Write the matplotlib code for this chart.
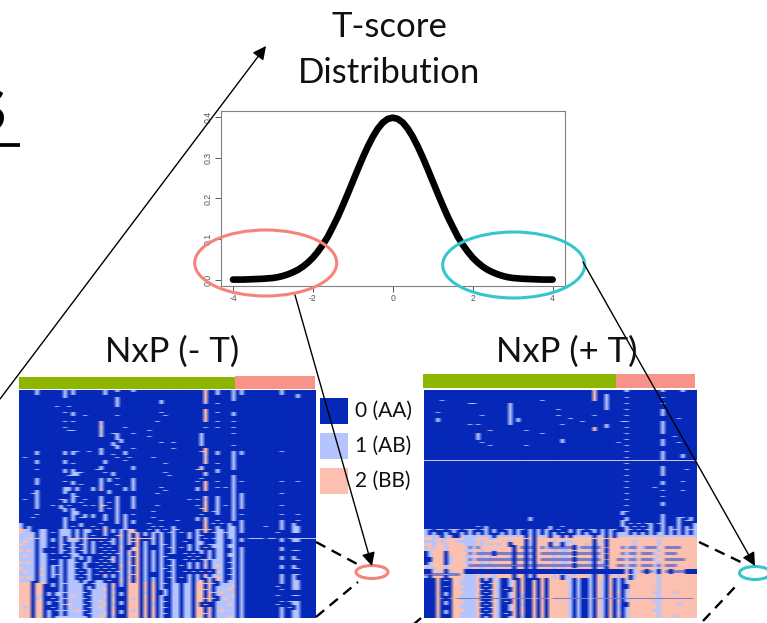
import matplotlib
matplotlib.use("Agg")
import matplotlib.pyplot as plt
from matplotlib.colors import ListedColormap
from matplotlib.patches import Ellipse, Rectangle

plt.rcParams["font.family"] = ["Lato", "DejaVu Sans"]

W, H = 767, 623

# density curve
t_values = [-4, -3.75, -3.5, -3.25, -3, -2.875, -2.75, -2.625, -2.5, -2.375, -2.25, -2.125, -2, -1.875, -1.75, -1.625,
            -1.5, -1.375, -1.25, -1.125, -1, -0.875, -0.75, -0.625, -0.5, -0.375, -0.25, -0.125, 0,
            0.125, 0.25, 0.375, 0.5, 0.625, 0.75, 0.875, 1, 1.125, 1.25, 1.375, 1.5, 1.625,
            1.75, 1.875, 2, 2.125, 2.25, 2.375, 2.5, 2.625, 2.75, 2.875, 3, 3.25, 3.5, 3.75, 4]
density = [0.000, 0.000, 0.001, 0.002, 0.004, 0.006, 0.009, 0.013, 0.018, 0.024, 0.032, 0.042, 0.054, 0.069, 0.086, 0.106,
           0.130, 0.155, 0.183, 0.212, 0.242, 0.272, 0.301, 0.328, 0.352, 0.372, 0.387, 0.396, 0.399,
           0.396, 0.387, 0.372, 0.352, 0.328, 0.301, 0.272, 0.242, 0.212, 0.183, 0.155, 0.130, 0.106,
           0.086, 0.069, 0.054, 0.042, 0.032, 0.024, 0.018, 0.013, 0.009, 0.006, 0.004, 0.002, 0.001, 0.000, 0.000]
x_ticks = [-4, -2, 0, 2, 4]
y_ticks = [0.0, 0.1, 0.2, 0.3, 0.4]

legend_labels = ["0 (AA)", "1 (AB)", "2 (BB)"]

# heatmap cells: . = 0 (AA), 1 = AB, 2 = BB, m = blurred mix of AA and BB
left_rows = [
    "....1..... .1.1...... .1..1...1. .......... ......2..1 ...1.1.... .....1",
    "....1..... .1.1...... .1........ .......... ......2..1 ...1.1.... .....1...1",
    ".......... .1........ ....1..... .......... ......2... ...1...... .........1",
    ".......... .......... ....1..... .....1.... ......2... ...1",
    ".......... .......... ....1..... .....1.... ......1..1",
    ".........1 ..1....... ....1.....",
    ".......... .......... .......... .......... ......2...",
    ".......... .1.1...... .......... .....1.... ......2..1 ...1",
    ".......... ...1..1... ....1..... ......1... ......2... ...1",
    ".......... .......... .......... .......... ......2...",
    ".......... .1.1...... 2......... ....1..... ......2..1 ...1",
    ".......... .......... 1......... ..........",
    ".......... .1........ 2.....1... .......... ......1..1 ...1",
    ".......... ..11...... 1......... ..1.......",
    ".......... .......... 1..11...1. .......... .....1.... ...1",
    ".......... .......... 2...1..... ..1....... .....1",
    ".......... .......... ....11.... .......... .....1",
    ".......... .......... ...1.1.... .....1..1. .....1",
    ".......... .......... ...11..... .......... .....1.... ...1",
    ".......... .......... 1...1...1. ........1. ......2",
    "....1..... .1.11..1.. 1.....1... .......... .....22..1 ...1.1.... .....1",
    "....1..... .1.1...... 1..1..1... .......... ......2..1 ...1.1",
    ".1........ .......... ....1..1.. ...1...... ......1... ...1",
    "....1..... .1........ .1....1... .......... ......2... ...1",
    "....1..... .1.1...... .1........ ......1... ......2..1 ...1",
    ".......... .......... 1.......1. .......... .....1.... ...1",
    "....1..... .1.1.....1 1.......1. .......... ....22...1 ...1",
    ".......... .1.111.... .1.1...... ......1... ......2..1",
    ".......... ..111..... ...1...... .......1.. ......1... ...1",
    "....1..... .......... 1.1.1...1. .......... .....1.... ...1",
    "....1..... .1.1...... 1.1.....1. .......... ....1.2..1 ...1.1.... .....1...1",
    "....1..... ...1.1.... 1...1...1. .......... ......2... ...1",
    ".......... .11.1...1. 1.....1.1. .....1.... ....1.2..1 .1.1",
    "....1..... .11.1...1. 2.1...1.1. ......1... ....1.2... ...1",
    "...11..... .1.1...... ..1....... ....1..... .......... ...1.1.... .....1",
    "....1..... ...11..... 1...1...1. .......... ......2..1 ...1.1",
    ".1..1..... 11.1..1... 1...1...1. .......... ..1.1.1..1 ...1.1",
    "....1..... .1.1.1.... 1.1.1...1. .......... ......2..1 ...1.1",
    "....1...1. 1.1...1.1. 22..1...1. ....1..... ....1.2..1 .1.1.1.... .....1....",
    "....1..... 11.1...... 1.1.1...1. .......... .....22..1 ...1.1",
    ".......... .1.11..... 1...1..... ...1...... ......2.11 ...1",
    "....1..... ...11.1.1. .1..1.1.1. .......... .....1...1 ...1.1.... .....1...1",
    "...1...... .1.1.11.1. .1..1.1... ...1...... ....1.1... ...1",
    ".......... .1.1...... .1..1.1.1. .....1...1 ....1.2..1 ...1.1.... .....1...1",
    "1......... .1...1.... 1...1.1.1. ..1....... ......2.1. 1.1..1.... .....1..1.",
    "1.1....... .1.1.1..1. .1....1... ...1.1..1. ......2..1 ..11.1.... .1...1..11",
    "211..11... 111.1.11.1 .2.1.1122. ..1.1.1.11 ....1122.1 1.11.1.... .....1..11",
    "2111.11.1. 111.1.11.. .1.1.1.122 .1.111.11. 1.1.1.2.11 1111.1.... ....1...11",
    "1111.11... 111.1.1.1. .1..12.2.2 .1.1.1..1. ..1.11...1 1.11..",
    "1121.11.1. 1.111.11.. ...1.1.1.2 2..1.1..1. ..1.1.1.11 1.11.1.... .....1..11",
    "1211.11.1. 1.111.1.1. 1.11.1.122 .1.1.1..1. .1..11...1 1..1.1.... .....1..11",
    "2111.11... 11.1.11.1. .1.1.1.2.2 .1.1.11.1. ..1.11.111 1.11",
    "1111.11.1. 1.111.1.1. 1.1..2..22 .1...1.11. 1.1.1.2.11 1.11.1.... .....1....",
    "2121.1.... 11.1.11.1. .1.1.1.122 .1.1.1..1. ..1.11.1.1 1..1.1.... .....1..11",
    "1111.11.1. 1.111.1.1. 2.1.21.2.2 .1.1.1.11. .1.1.1.1.1 1.11.1",
    "1211.11... .1.111.1.. .1.1.1.122 .1.1.11... ..1.1..1.1 1.11.1.... .....1..1.",
    "1111.11.1. 1.11.1.1.. 1.12.1.1.2 .1.1.1.11. .1.1.12111 1..1.1.... .....1..11",
    "2121.11... 1.111.11.1 .2.1.1.2.2 .1.1.1..1. ..1.1.1.11 1.11.1",
    "1111.11.11 1.11..1... 1.1..2.122 .1.1.1.11. 1.1.1.2.12 1..1.1.... .....1..1.",
    "2111.21.1. 1.111.11.1 .1.1.1.1.2 .1.1.11.1. ..1.1.1.11 1.11.1.... .....1..11",
    "1211.11.1. 1.11.1.1.. 2.1.21.2.2 .1.1.1.11. .1.1.2.1.2 1..1.1",
    "1111.21.11 1.111.11.1 .2.1.1.122 .1...1..1. ..1.1.2.11 1.11.1.... .....1..11",
    "2121.11.1. 1.11.1.1.. .1.1.1.2.2 .1.1.1.11. 1.1.1.2112 1..1.1.... .....1..1.",
    "1111.11... 1.111.11.1 1.1..2.1.2 .1.1.1..1. ..1.12.1.2 1.11.1.... .....1..11",
    "222.222.1. 1111111.11 11.2.1.222 .2.2.11.11 .11.22221. 1111.1.... .....1..11",
    "222.22..1. 1.1111.1.1 11.2.1.222 .2.2.1..11 .11.22.2.1 1112.1.... ....1...11",
    "222.22.... 1.1111.111 12.1...222 .2.2.11.11 .11.2221.1 1121.1.... .....1..11",
    "222.22.1.1 1111111.11 11.2.1.222 .1.2..1.11 .11.22.211 2111.1",
    "222.21.1.1 1.1211.111 12.1.1.222 .2.2.11.11 .11.22.2.1 1112.1.... ....1...11",
    "222.12..1. 1111111.11 11.2...212 .2.2.1..11 .11.22221. 1211.1",
    "222.22.1.1 1.1111.111 21.2.1.222 .2.2.11.11 .11.22.2.1 1111.1.... .....1.111",
    "222.22.1.. 1121111.11 12.1.1.222 .2.1.1..11 .11.2.2..1 1121.1.... ....1...11",
    "212.22..1. 1.1111.111 21.2...222 .2.2.11.11 .11.22.2.1 1111.1.... .....1.1.1",
    "222.22.1.1 1111211.11 11.2.1.212 .2.2.1..11 .11.22.2.1 2111.1.... .....1..11",
    "222.22.1.. 1.1111.111 12.2.1.222 .2.2.11.11 .11.2221.1 1111.1.... .....1..11",
    "222.22.1.1 1111111.11 21.1...222 .2.2.1..11 .11.22.2.1 1121.1.... .....1..11",
]

right_rows = [
    ".......... .......... .......... .......... ..2....... 1........1 ....1...",
    ".......... .......... .......... .......... ..2..1.... .",
    ".......... .......... .......... .......... ..2..1.... 1........1",
    "....1..... .......... .........1 .......... ..2..1.... .",
    ".......... .11....... .1........ .......... .....1.... 1........1",
    ".......... .......... .1........ .......... .....1.... .........",
    ".......... .......... .1........ ...1...... .....1.... 1........1",
    "...1...... .......... .1........ .......... .......... .........1",
    ".......... ....1..... .1........ ...1...... ..1....... 1........1",
    "...1...... .......... .1.1...... ......1... .......... ......... ....1",
    "...1...... .......... .1.1...... .........1 .........1 1........1",
    ".......... .1.1...... .1........ ....1..... .....1.... .........1",
    ".......... .......... .......... .......... ..2..1.... 1........1",
    ".......... ......2... .....1.... .......... ..2....... .........1",
    ".......... ...1...... .........1 .......... .......... 1........1",
    ".......... ...1...... .......... .......... .......... ......... ...1",
    ".......... ...1...... .......... ....1..... .......... 1........1",
    ".......... ....1..... .......... ....1..... ........1. .........1 ...1",
    ".......... ......1... .....1.... .......... .......... 1........1",
    ".......... .......... .......... .......... .......... .........",
    ".......... .......... .......... .......... .......... 1........1",
    ".......... .......... .......... .......... .......... .........1 ....1",
    ".......... .......... .......... .......... .......... 1........1 ....1",
    ".......... .......... .......... .......... .......... .........1",
    ".......... .......... .......... .......... .......... 1.........",
    ".......... .......... .......... .......... .......... .........1",
    ".......... .......... .......... .......... .......... 1........1 .....1",
    ".......... .......... .......... .......... .......... .........1",
    ".......... .......... .......... .......... .......... 1........1",
    ".......... .......... .......... .......... .......... .........",
    ".......... .......... .......... .......... .......... 1........1 ....1",
    ".......... .......... .......... .......... .......... .........1",
    ".......... .......... .......... .......... .......... 1......1..",
    ".......... .......... .......... .......... .......... .........1 ....1",
    ".......... .......... .......... .......... .......... 1.........",
    ".......... .......... .......... .......... .......... .........1",
    ".......... .......... .......... .......... .......... 1......... .....",
    ".......... .......... .......... .......... .......... .........1",
    ".......... .......... .......... .......... .......... 1........1",
    ".......... .......... .......... .......... .......... .........",
    ".......... .......... .......... .......... .........1 1.........",
    ".......... .......... .......... .......... .........1 .........1",
    ".......... .......... ......1... .......... .......... 1........1 ...11.1",
    ".......... .......... ......1... .......... .........1 1........1 ...1.11",
    ".......... .......... .......... .......... .........1 .1.1.11.11 ...1...1",
    ".......... ...1.1.... .......... .1..1..... .........1 1.1.1.1..1 .1.1.1.1",
    "11.11.111. 111.11.1.. 11.11.1.1. 11.1..1.11 .11.1.11.. 11.1.11..1 .111.1111",
    "1.1..1.1.1 .1.1.1.1.1 .1.1..1.1. 1.1.1.1.1. 1.1.1.1.11 1.1.1.1.11 .1.1.1.1",
    "1111.11..1 1111111.11 11111.1.11 1.11.1.111 11.11.1.11 1111111111 11111111",
    "2212212222 1112221122 2222222.22 2222222222 2222222222 2222222222 22222222",
    "1112122211 1112122222 21222.1.22 2212111222 22.21.2222 2212222212 22222222",
    "2212212222 1112121212 2.222.1.22 2.21.12122 12.12.2222 2212222212 22222222",
    "1212212222 2m1m222222 22.2m.m.2m 1mmmmmm.1m mm.m2m222m 1mm21mmm22 mmmm2222",
    "2122212222 1122122122 22.22.1.22 2212112122 21.21.2222 2212222212 22222222",
    ".1222.2222 2m1mmmm.mm mm.mm.m.2m mmmmmmm.mm mm.m2m222m 1mm2mmm122 mmm22222",
    ".1222.1222 1122121222 21.22.1.22 2212112122 22.12.2222 2212222212 22222222",
    "..222.1222 2m1mmmmmmm mm.mm.m.2m mmmmmmm.mm mm.m2m22mm 1mm2mmm122 mmmmm222",
    ".1222.1222 1122121222 22.22.1.22 2212112122 21.21.2222 2212222212 22222222",
    "2122212222 2mmmmmmmmm mmmmm.m.mm mmmmmmm.mm mm.mmm22mm 1mm2mmm1m2 mmm22222",
    "1112212222 1122122122 22.22.1.22 2212122122 22.21.2222 2212222212 22222222",
    "..222.1222 .......... .......... .......... .......... 1.12m.m1.2 m.mmm...",
    "mmmmm1mmm2 1112122122 22.22.1.22 2212112122 21.21.1212 2212222212 22222222",
    "1.222.2222 1112121122 22.22.1.22 2212.11222 21.22.2212 2.12222212 22222222",
    "...2.1.221 1112.1.21. .12.2..2.2 .222221.1. .1.21.2.1. 1222222212 22222222",
    "...2...221 11121.121. .12.2..2.2 .222221.1. .1.21.2.1. 1222222212 22222222",
    "...2.1.222 1112.1.21. .12.2..2.2 .222221.1. .1.21.2.1. .222222212 22222222",
    "...2...221 11121.121. 2.2.2..2.2 .222221.1. .1.21.2.1. 1222222212 22222222",
    "...2.1.222 1112.1.21. .12.2..2.2 .222221.1. .1.21.2.2. 1222222112 22122222",
    "...2.1.221 11121.121. .12.1..2.2 .222221.1. .1.21.2.1. 1222222212 22222222",
    "...2...221 1112.1.21. .12.2..2.2 .222221.1. .1.21.2.1. 1222222212 22222222",
    "...2.1.222 11121.121. 2.2.2..2.2 .222221.1. .1.21.2.2. 1222222112 22222222",
    "...2.1.221 1112.1.21. .12.1..2.2 .222221.1. .1.21.2.1. .222222212 22212222",
    "...2...221 11121.121. .12.2..2.2 .222221.1. .1.21.2.1. 1222222212 22222222",
    "...2.1.222 1112.1.21. .12.2..2.2 .222221.1. .1.21.2.1. 1222222112 22222222",
    "...2.1.221 11121.121. 2.2.2..2.2 .222221.1. .1.21.2.2. 1222222212 22222222",
    "...2...221 1112.1.21. .12.1..2.2 .222221.1. .1.21.2.1. 1222222212 22122222",
]

# single samples, only one pixel tall in the picture
left_thin = {49: "....2..... ..22222222 22.2.2.222 2222.2.... .......... .......111 1.11.1.111 11111"}
right_thin = {
    23: "2121212121 2121212121 2121212121 2121212121 2121212121 2121212121 21212121",
    69: "....m.m.mm mmmmmmmmmm mmmmmmm.mm m.mmmmmmmm m.mmmmmmmm mmmmmmmmmm mmmmmmm",
}


def to_cells(rows, n_cols, thin):
    codes = {".": 0, "1": 1, "2": 2, "m": 3}
    parsed = []
    for row in rows:
        row = row.replace(" ", "").ljust(n_cols, ".")[:n_cols]
        parsed.append([codes[c] for c in row])
    # each row is three pixels: an isolated dash only fills the middle one
    cells = []
    for i, row in enumerate(parsed):
        above = parsed[i - 1] if i > 0 else row
        below = parsed[i + 1] if i < len(parsed) - 1 else row
        middle = row
        if i in thin:
            line = thin[i].replace(" ", "").ljust(n_cols, ".")[:n_cols]
            middle = [codes[c] if c != "." else v for c, v in zip(line, row)]
        cells.append([v if a else 0 for v, a in zip(row, above)])
        cells.append(middle)
        cells.append([v if b else 0 for v, b in zip(row, below)])
    return cells


def pixel_axes(fig, left, top, right, bottom, **kwargs):
    return fig.add_axes([left / W, 1 - bottom / H, (right - left) / W, (bottom - top) / H], **kwargs)


def draw_heatmap(fig, rows, n_cols, thin, box):
    ax = pixel_axes(fig, *box)
    ax.imshow(to_cells(rows, n_cols, thin), cmap=heat_cmap, vmin=0, vmax=3, aspect="auto",
              interpolation="bilinear", interpolation_stage="rgba")
    ax.axis("off")
    return ax


fig = plt.figure(figsize=(W / 100, H / 100), dpi=100)

BLUE, LIGHT, PINK = "#0628B8", "#B4C4FF", "#FCC0B0"
heat_cmap = ListedColormap([BLUE, LIGHT, PINK, "#7C7CC8"])

draw_heatmap(fig, left_rows, 74, left_thin, (19, 390, 316, 618))
draw_heatmap(fig, right_rows, 68, right_thin, (424, 390, 697, 618))

# density panel
ax = pixel_axes(fig, 221, 111, 565, 286)
ax.plot(t_values, density, color="black", lw=4.8, solid_capstyle="round")
ax.set_xlim(-4.3, 4.31)
ax.set_ylim(-0.0158, 0.4155)
ax.set_xticks(x_ticks)
ax.set_yticks(y_ticks)
ax.set_xticklabels([str(v) for v in x_ticks], family="Liberation Sans")
ax.set_yticklabels([f"{v:.1f}" for v in y_ticks], family="Liberation Sans", rotation=90, va="center")
ax.tick_params(labelsize=6.3, colors="#555555", length=4, width=0.7, pad=2)
for spine in ax.spines.values():
    spine.set_color("#808080")
    spine.set_linewidth(0.8)

# everything else sits on a full figure overlay in pixel coordinates
over = fig.add_axes([0, 0, 1, 1], zorder=5)
over.set_xlim(0, W)
over.set_ylim(H, 0)
over.axis("off")
over.patch.set_alpha(0)

GREEN, SALMON = "#8DB600", "#F79389"
over.add_patch(Rectangle((19, 376.5), 216, 12.5, color=GREEN, lw=0))
over.add_patch(Rectangle((235, 376), 80, 12.5, color=SALMON, lw=0))
over.add_patch(Rectangle((423, 374), 193, 14, color=GREEN, lw=0))
over.add_patch(Rectangle((616, 374), 79, 14, color=SALMON, lw=0))

for label, color, top in zip(legend_labels, [BLUE, LIGHT, PINK], [398, 433, 468]):
    over.add_patch(Rectangle((320, top), 28, 26, color=color, lw=0))
    over.text(355, top + 13, label, fontsize=15, va="center", ha="left", color="#111111")

over.add_patch(Ellipse((265.7, 263), 142, 66, fill=False, ec="#F4837A", lw=2.2))
over.add_patch(Ellipse((513.7, 265), 142, 66, fill=False, ec="#33C6CE", lw=2.2))
over.add_patch(Ellipse((372, 572), 32, 13, fill=False, ec="#F4837A", lw=2.2))
over.add_patch(Ellipse((755, 573), 31, 13, fill=False, ec="#33C6CE", lw=2.2))

arrow = dict(arrowstyle="-|>", color="black", lw=1, mutation_scale=20, shrinkA=0, shrinkB=0)
over.annotate("", xy=(266, 46), xytext=(0, 399), arrowprops=arrow)
over.annotate("", xy=(372, 566), xytext=(295, 295), arrowprops=arrow)
over.annotate("", xy=(755, 566), xytext=(583, 262), arrowprops=arrow)

dashed = dict(color="black", lw=1.7, ls=(0, (4.5, 3)))
over.plot([316, 359], [542, 565], **dashed)
over.plot([316, 358], [617, 582], **dashed)
over.plot([699, 747], [542, 565], **dashed)
over.plot([703, 735], [621, 587], **dashed)
over.plot([421, 414], [618, 624], **dashed)

over.text(389, 27, "T-score", fontsize=25, ha="center", va="center", color="#111111")
over.text(389, 73, "Distribution", fontsize=25, ha="center", va="center", color="#111111")
over.text(172, 352, "NxP (- T)", fontsize=25, ha="center", va="center", color="#111111")
over.text(567, 352, "NxP (+ T)", fontsize=25, ha="center", va="center", color="#111111")

over.text(6, 131, "S", fontsize=42, fontweight="bold", ha="right", va="baseline", color="black")
over.plot([0, 20], [145, 145], color="black", lw=2.7, solid_capstyle="butt")

fig.savefig("out.png", dpi=100)
